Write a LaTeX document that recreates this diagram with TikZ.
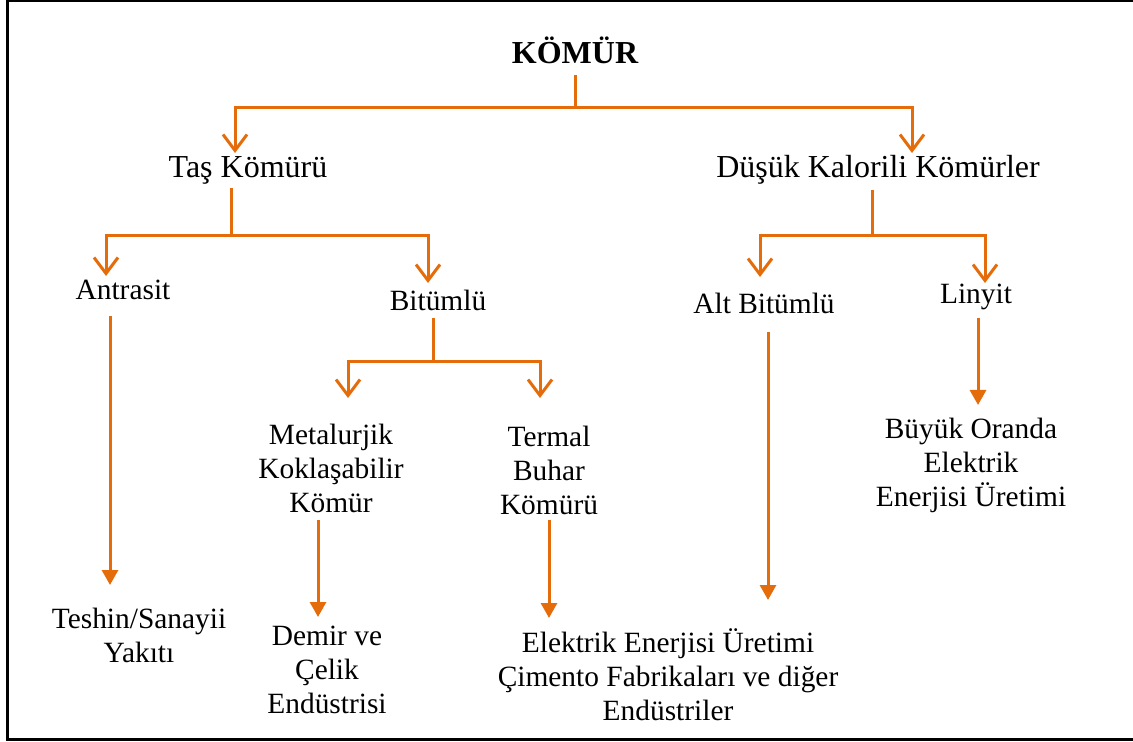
\documentclass[tikz,border=0pt]{standalone}
\usepackage{fontspec}
\setmainfont{Liberation Serif}
\usetikzlibrary{arrows.meta,calc}
\definecolor{kmorange}{RGB}{228,108,10}

\begin{document}
\begin{tikzpicture}[x=0.5pt,y=0.5pt,yscale=-1,xscale=1,
  txt/.style={inner sep=0pt,align=center,font=\fontsize{14.7}{17}\selectfont},
  bigtxt/.style={txt,font=\fontsize{16}{17}\selectfont},
  openarr/.style={draw=kmorange,line width=1.5pt,-{Straight Barb[length=8pt,width=12pt]}},
  fillarr/.style={draw=kmorange,line width=1.5pt,-{Triangle[length=7.5pt,width=8pt]}}]
\useasboundingbox (0,0) rectangle (1133,742);

%Frame
\draw [line width=1.5pt]  (1133,1) -- (7,1) -- (7,739) -- (1133,739) ;

% Text Node
\node [bigtxt,font=\fontsize{16}{17}\selectfont\bfseries] (komur) at (575,50) {KÖMÜR};
% Text Node
\node [bigtxt] (tas) at (248,170) {Taş Kömürü};
% Text Node
\node [bigtxt] (dusuk) at (878,170) {Düşük Kalorili Kömürler};
% Text Node
\node [txt] (antrasit) at (123,290) {Antrasit};
% Text Node
\node [txt] (bitumlu) at (438,300) {Bitümlü};
% Text Node
\node [txt] (alt) at (764,303) {Alt Bitümlü};
% Text Node
\node [txt] (linyit) at (976,297) {Linyit};
% Text Node
\node [txt] (metal) at (331,468) {Metalurjik\\Koklaşabilir\\Kömür};
% Text Node
\node [txt] (termal) at (549,470) {Termal\\Buhar\\Kömürü};
% Text Node
\node [txt] (buyuk) at (971,465) {Büyük Oranda\\Elektrik\\Enerjisi Üretimi};
% Text Node
\node [txt] (teshin) at (139,635) {Teshin/Sanayii\\Yakıtı};
% Text Node
\node [txt] (demir) at (327,670) {Demir ve\\Çelik\\Endüstrisi};
% Text Node
\node [txt] (elektrik) at (668,675) {Elektrik Enerjisi Üretimi\\Çimento Fabrikaları ve diğer\\Endüstriler};

%Connectors: KÖMÜR
\draw [openarr]  ($(komur)+(0,25)$) -- ++(0,33) -| ($(tas)+(-13,-17)$) ;
\draw [openarr]  ($(komur)+(0,25)$) -- ++(0,33) -| ($(dusuk)+(34,-17)$) ;
%Connectors: Taş Kömürü
\draw [openarr]  ($(tas)+(-17,18)$) -- ++(0,48) -| ($(antrasit)+(-17,-14)$) ;
\draw [openarr]  ($(tas)+(-17,18)$) -- ++(0,48) -| ($(bitumlu)+(-10,-17)$) ;
%Connectors: Düşük Kalorili Kömürler
\draw [openarr]  ($(dusuk)+(-6,20)$) -- ++(0,46) -| ($(alt)+(-4,-26)$) ;
\draw [openarr]  ($(dusuk)+(-6,20)$) -- ++(0,46) -| ($(linyit)+(9,-14)$) ;
%Connectors: Bitümlü
\draw [openarr]  ($(bitumlu)+(-5,18)$) -- ++(0,44) -| ($(metal)+(17,-70)$) ;
\draw [openarr]  ($(bitumlu)+(-5,18)$) -- ++(0,44) -| ($(termal)+(-9,-72)$) ;

%Straight Lines to uses
\draw [fillarr]  ($(antrasit)+(-13,26)$) -- ($(teshin)+(-29,-50)$) ;
\draw [fillarr]  ($(metal)+(-13,52)$) -- ($(demir)+(-9,-53)$) ;
\draw [fillarr]  ($(termal)+(0,50)$) -- ($(elektrik)+(-119,-57)$) ;
\draw [fillarr]  ($(alt)+(4,29)$) -- ($(elektrik)+(100,-75)$) ;
\draw [fillarr]  ($(linyit)+(2,21)$) -- ($(buyuk)+(7,-60)$) ;
\end{tikzpicture}
\end{document}
